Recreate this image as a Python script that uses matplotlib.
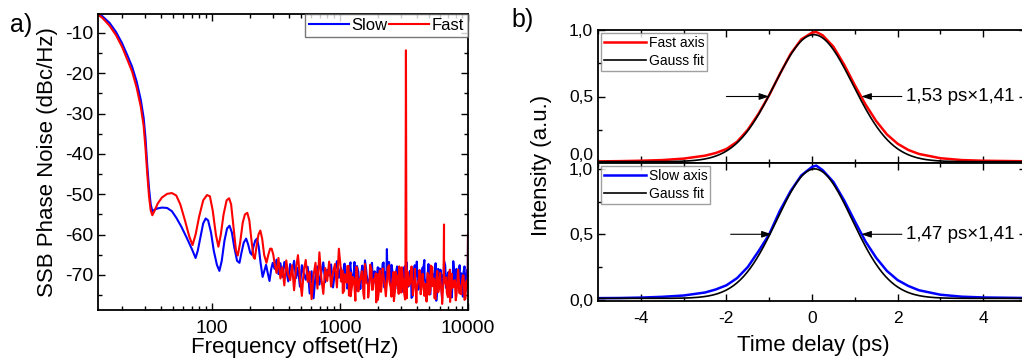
import numpy as np
import matplotlib
matplotlib.use('Agg')
import matplotlib.pyplot as plt
from matplotlib.ticker import FixedLocator, FixedFormatter, MultipleLocator

plt.rcParams['font.family'] = ['Liberation Sans', 'DejaVu Sans']
plt.rcParams['axes.unicode_minus'] = False

# ---- panel a) phase noise, smooth low-frequency part ----
slow_f_low = [13, 14, 16, 18, 20, 22, 24, 26, 28, 29.5, 30.5, 31.5, 32.5, 33.5, 34.5,
              36, 38, 41, 45, 49, 53, 58, 64, 70, 75, 78, 82, 86, 90, 94, 99, 104,
              110, 115, 120, 126, 132, 138, 144, 150, 158, 165, 171, 178, 186, 193,
              200, 206, 212, 219, 226, 233, 241, 250, 258, 266, 274, 283, 292, 300]
slow_db_low = [-5.2, -5.8, -7.5, -9.8, -12.5, -15.5, -18.4, -22, -26.5, -31, -36, -43, -48.5, -52.5, -54.2,
               -53.8, -53.5, -53.3, -53.4, -54.2, -55.8, -58, -60.8, -63.5, -65.8, -64, -60.5, -57.2, -56, -56.5, -59.5, -64,
               -67.5, -69, -66.5, -61.5, -58.5, -57.8, -59.5, -63, -66.5, -67, -64.5, -62, -61, -62.5,
               -64.5, -65, -63, -61.5, -61, -63, -67, -70.5, -69, -67.5, -69.5, -71.5, -68.5, -67]

fast_f_low = [13, 14, 16, 18, 20, 22, 24, 26, 28, 29.5, 30.5, 31.5, 32.5, 33.5, 34.5,
              36, 38, 41, 45, 49, 53, 57, 62, 67, 71, 75, 80, 86, 92, 97, 102, 108,
              113, 118, 124, 131, 137, 142, 148, 155, 160, 167, 175, 182, 190, 197,
              204, 212, 217, 224, 232, 240, 248, 257, 268, 277, 286, 294, 303]
fast_db_low = [-5.5, -6.2, -8.2, -10.6, -13.4, -16.6, -19.6, -23.5, -28.2, -33, -38.5, -45, -50.5, -54, -55.2,
               -54, -52.3, -50.8, -49.9, -49.7, -50.3, -52.5, -56.5, -60.5, -62.6, -60, -55.5, -51.5, -50.2, -50.5, -54, -60,
               -63, -60, -55, -51.5, -51, -52.5, -58, -64, -65.2, -62, -57, -55, -54.6, -56.5,
               -61, -65.5, -66, -63, -60, -59, -61, -65, -67, -65, -63.5, -63.5, -65]

# ---- noisy part 310 Hz .. 9.9 kHz ----
noise_f = np.geomspace(310, 9900, 100)
slow_db_noise = [-68.5, -66.2, -69.8, -67.1, -70.5, -66.8, -68.9, -71.6, -67.3, -69.4,
                 -66.5, -70.8, -68.2, -72.9, -67.6, -69.7, -71.2, -68.0, -74.6, -69.1,
                 -75.8, -70.3, -67.9, -72.4, -69.5, -66.9, -71.8, -68.7, -70.2, -67.4,
                 -73.1, -69.0, -66.6, -70.7, -68.3, -71.9, -67.2, -69.9, -72.6, -68.1,
                 -70.4, -66.8, -71.3, -69.2, -73.5, -67.7, -70.1, -68.6, -72.2, -69.4,
                 -67.0, -71.7, -69.8, -73.9, -68.4, -70.6, -66.9, -72.8, -69.3, -71.1,
                 -67.5, -70.9, -73.3, -68.8, -71.5, -69.6, -74.2, -67.8, -70.3, -72.0,
                 -68.9, -75.1, -69.7, -66.7, -71.4, -73.6, -68.2, -70.8, -72.5, -67.3,
                 -74.8, -69.1, -71.9, -76.4, -68.5, -72.7, -70.0, -66.5, -73.2, -69.5,
                 -71.6, -75.6, -68.0, -70.4, -73.0, -67.6, -72.1, -69.3, -74.0, -68.7]
fast_db_noise = [-67.2, -69.5, -65.8, -70.9, -68.1, -72.6, -66.4, -69.9, -71.3, -67.6,
                 -73.8, -68.4, -65.1, -70.6, -75.2, -68.8, -66.3, -71.7, -69.2, -76.0,
                 -70.1, -67.0, -73.4, -64.4, -70.8, -74.7, -68.3, -71.5, -66.7, -72.9,
                 -69.4, -67.3, -73.1, -63.5, -68.6, -74.5, -69.8, -71.9, -67.8, -75.3,
                 -70.5, -72.8, -68.0, -74.1, -71.2, -69.1, -75.9, -70.4, -72.3, -67.5,
                 -73.7, -71.0, -69.6, -76.2, -68.9, -72.4, -70.7, -74.9, -68.2, -71.8,
                 -75.4, -69.3, -73.0, -70.1, -67.9, -74.4, -71.6, -76.1, -69.0, -72.7,
                 -70.3, -75.0, -68.5, -73.5, -71.1, -74.8, -69.7, -72.2, -76.6, -70.0,
                 -73.9, -68.1, -75.7, -71.4, -74.3, -69.5, -77.2, -72.0, -70.6, -75.5,
                 -68.7, -73.3, -71.7, -76.3, -69.9, -74.6, -72.5, -70.2, -75.8, -71.3]

# extra points in the dense 1-10 kHz band
noise2_f = np.geomspace(1020, 9950, 80)
slow_db_noise2 = [-69.2, -71.8, -67.4, -70.6, -73.4, -68.3, -66.9, -71.2, -69.7, -74.1,
                  -67.8, -70.2, -72.7, -68.6, -71.4, -66.4, -69.9, -73.8, -70.8, -67.5,
                  -72.3, -69.1, -75.3, -68.1, -70.9, -71.9, -67.2, -73.1, -69.4, -70.4,
                  -66.8, -72.5, -68.8, -74.6, -70.0, -67.9, -71.6, -69.6, -73.5, -68.4,
                  -70.7, -66.9, -72.9, -69.0, -75.7, -71.1, -67.6, -70.3, -73.7, -68.9,
                  -71.3, -69.5, -66.3, -72.6, -70.1, -74.4, -68.0, -71.7, -69.8, -67.1,
                  -73.2, -70.5, -68.7, -75.9, -71.0, -67.7, -72.4, -69.3, -74.3, -70.2,
                  -66.6, -72.1, -68.5, -71.8, -73.0, -69.6, -75.4, -67.9, -70.9, -72.8]
fast_db_noise2 = [-71.6, -68.9, -73.9, -70.2, -67.8, -75.1, -69.4, -72.5, -70.8, -76.4,
                  -68.2, -73.3, -71.0, -69.1, -74.6, -67.3, -72.0, -75.6, -70.5, -68.6,
                  -73.6, -71.5, -76.8, -69.8, -72.9, -74.2, -68.4, -71.2, -75.3, -70.0,
                  -67.6, -73.1, -71.8, -76.5, -69.2, -72.6, -74.7, -70.4, -68.1, -73.4,
                  -71.1, -75.8, -69.6, -72.2, -67.9, -74.0, -70.7, -76.9, -71.9, -68.8,
                  -73.8, -70.3, -75.2, -72.4, -69.5, -74.9, -67.7, -72.8, -70.9, -76.0,
                  -69.0, -73.5, -71.4, -75.5, -68.3, -72.1, -74.5, -70.6, -76.7, -69.7,
                  -73.0, -71.3, -75.0, -68.7, -72.7, -74.8, -70.1, -76.2, -71.7, -73.2]

# narrow spurs
slow_f_spur = [2310, 2330, 2350, 10000]
slow_db_spur = [-70, -63.6, -70, -60]
fast_f_spur = [3250, 3280, 3310, 6450, 6500, 6550, 10000]
fast_db_spur = [-70.5, -14.3, -70, -71, -57.5, -72, -60]

# ---- panel b) autocorrelation traces ----
t_ps = [-5.0, -4.5, -4.0, -3.5, -3.0, -2.5, -2.25, -2.0, -1.75, -1.5, -1.25, -1.0, -0.75, -0.5,
        -0.25, 0.0, 0.1, 0.25, 0.5, 0.75, 1.0, 1.25, 1.5, 1.75, 2.0, 2.25, 2.5, 3.0, 3.5, 4.0,
        4.5, 5.0, 5.2]
fast_int = [0.012, 0.014, 0.017, 0.022, 0.033, 0.055, 0.075, 0.105, 0.16, 0.25, 0.37, 0.51, 0.67, 0.82,
            0.93, 0.98, 0.985, 0.96, 0.875, 0.74, 0.585, 0.44, 0.315, 0.215, 0.145, 0.098, 0.068, 0.036, 0.022, 0.017,
            0.015, 0.013, 0.013]
slow_int = [0.012, 0.013, 0.016, 0.022, 0.032, 0.055, 0.078, 0.11, 0.165, 0.25, 0.37, 0.50, 0.68, 0.83,
            0.95, 1.015, 1.025, 0.99, 0.90, 0.76, 0.60, 0.445, 0.32, 0.22, 0.15, 0.105, 0.072, 0.038, 0.023, 0.017,
            0.015, 0.013, 0.013]
# Gauss fit parameters: amplitude, centre (ps), FWHM (ps), offset
fast_fit = (0.955, 0.04, 1.53 * 1.41, 0.01)
slow_fit = (0.99, 0.06, 1.47 * 1.41, 0.01)


def merge(*pairs):
    f = np.concatenate([p[0] for p in pairs])
    d = np.concatenate([p[1] for p in pairs])
    o = np.argsort(f)
    return f[o], d[o]


def gauss(t, p):
    a, t0, w, c = p
    return c + a * np.exp(-4 * np.log(2) * (t - t0) ** 2 / w ** 2)


W, H = 1022, 361
fig = plt.figure(figsize=(W / 100, H / 100), dpi=100)

# ================= panel a =================
ax = fig.add_axes([98 / W, 1 - 310 / H, 370 / W, 296 / H])
sf, sd = merge((slow_f_low, slow_db_low), (noise_f, slow_db_noise),
               (noise2_f, slow_db_noise2), (slow_f_spur, slow_db_spur))
ff, fd = merge((fast_f_low, fast_db_low), (noise_f, fast_db_noise),
               (noise2_f, fast_db_noise2), (fast_f_spur, fast_db_spur))
ax.plot(sf, sd, color='#0000ff', lw=1.5, label='Slow')
ax.plot(ff, fd, color='#ff0000', lw=1.5, label='Fast')
ax.set_xscale('log')
ax.set_xlim(13, 10000)
ax.set_ylim(-78.7, -5.3)
ax.xaxis.set_major_locator(FixedLocator([100, 1000, 10000]))
ax.xaxis.set_major_formatter(FixedFormatter(['100', '1000', '10000']))
ax.xaxis.set_minor_locator(FixedLocator([k * 10 ** e for e in (1, 2, 3) for k in range(2, 10)]))
ax.xaxis.set_minor_formatter(FixedFormatter([]))
ax.yaxis.set_major_locator(MultipleLocator(10))
ax.yaxis.set_minor_locator(MultipleLocator(5))
ax.tick_params(which='both', direction='in', top=True, right=True, labelsize=14, width=1)
ax.tick_params(which='major', length=5)
ax.tick_params(which='minor', length=3)
ax.tick_params(axis='x', pad=7)
for s in ax.spines.values():
    s.set_linewidth(1.3)
leg = ax.legend(loc='upper right', ncol=2, fontsize=12, borderaxespad=0, fancybox=False,
                handlelength=2.4, handletextpad=0.15, columnspacing=0.1, borderpad=0.25)
leg.get_frame().set_edgecolor('#555555')
leg.get_frame().set_linewidth(1)
fig.text(48 / W, 1 - 162 / H, 'SSB Phase Noise (dBc/Hz)', rotation=90, ha='center', va='center', fontsize=16)
fig.text(295 / W, 1 - 348 / H, 'Frequency offset(Hz)', ha='center', va='center', fontsize=16)
fig.text(21 / W, 1 - 25 / H, 'a)', ha='center', va='center', fontsize=18)

# ================= panel b =================
t_fine = np.linspace(-5.2, 5.2, 400)
ax_t = fig.add_axes([598 / W, 1 - 163 / H, 428 / W, 133 / H])
ax_b = fig.add_axes([598 / W, 1 - 301 / H, 428 / W, 138 / H])

panels = [
    (ax_t, fast_int, '#ff0000', 'Fast axis', fast_fit, (0.0, 1.0), '1,53 ps\u00d71,41', (-2.0, -1.0)),
    (ax_b, slow_int, '#0000ff', 'Slow axis', slow_fit, (-0.01, 1.045), '1,47 ps\u00d71,41', (-1.9, -0.94)),
]
for a, y, c, lab, fit, yl, txt, larr in panels:
    a.plot(t_ps, y, color=c, lw=1.8, label=lab)
    a.plot(t_fine, gauss(t_fine, fit), color='black', lw=1.2, label='Gauss fit')
    a.set_xlim(-5, 5)
    a.set_ylim(*yl)
    a.xaxis.set_major_locator(FixedLocator([-4, -2, 0, 2, 4]))
    a.xaxis.set_minor_locator(FixedLocator([-5, -3, -1, 1, 3, 5]))
    a.yaxis.set_major_locator(FixedLocator([0, 0.5, 1.0]))
    a.yaxis.set_major_formatter(FixedFormatter(['0,0', '0,5', '1,0']))
    a.yaxis.set_minor_locator(FixedLocator([0.25, 0.75]))
    a.tick_params(which='both', direction='in', top=True, right=True, labelsize=12.5, width=1)
    a.tick_params(which='major', length=5)
    a.tick_params(which='minor', length=3)
    a.tick_params(axis='x', pad=7)
    for s in a.spines.values():
        s.set_linewidth(1.3)
    lg = a.legend(loc='upper left', fontsize=10, fancybox=False, borderaxespad=0.25,
                  handlelength=3.0, handletextpad=0.2, borderpad=0.2, labelspacing=0.25)
    lg.get_frame().set_edgecolor('#888888')
    lg.get_frame().set_linewidth(1)
    arrow = dict(arrowstyle='-|>,head_length=0.6,head_width=0.2', color='black', lw=0.8, shrinkA=0, shrinkB=0)
    a.annotate('', xy=(larr[1], 0.5), xytext=(larr[0], 0.5), arrowprops=arrow)
    a.annotate('', xy=(1.15, 0.5), xytext=(2.1, 0.5), arrowprops=arrow)
    a.text(2.2, 0.5, txt, ha='left', va='center', fontsize=13.5)

# lift the lower "0,0" label of the upper panel off the panel boundary, as in the original
fig.canvas.draw()
ax_t.get_yticklabels()[0].set_va('bottom')

ax_t.tick_params(labelbottom=False)
ax_b.set_xticklabels(['-4', '-2', '0', '2', '4'])
fig.text(541 / W, 1 - 165 / H, 'Intensity (a.u.)', rotation=90, ha='center', va='center', fontsize=16)
fig.text(813 / W, 1 - 345 / H, 'Time delay (ps)', ha='center', va='center', fontsize=16)
fig.text(523 / W, 1 - 20 / H, 'b)', ha='center', va='center', fontsize=18)

fig.savefig('out.png', dpi=100)
